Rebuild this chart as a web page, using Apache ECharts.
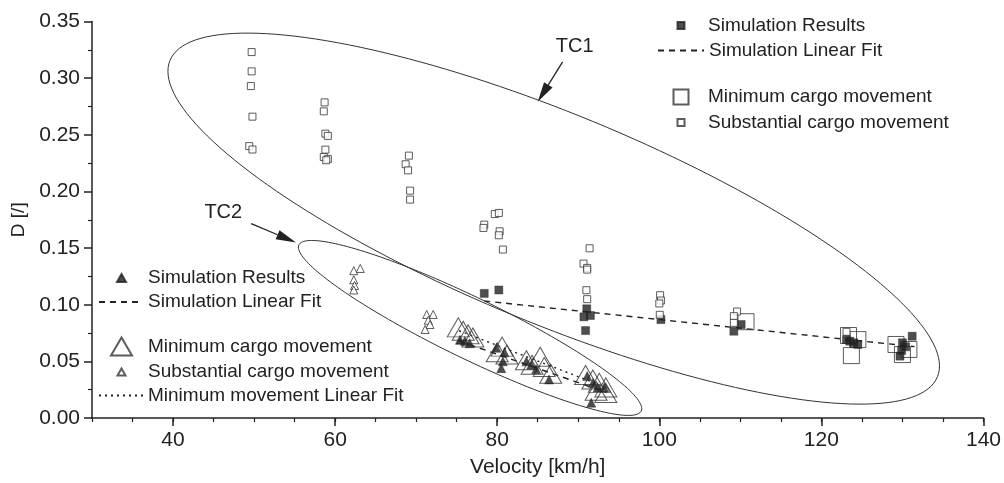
<!DOCTYPE html>
<html><head><meta charset="utf-8">
<script src="https://cdn.jsdelivr.net/npm/echarts@6/dist/echarts.min.js"></script>
<style>html,body{margin:0;padding:0;background:#fff}#chart{width:1004px;height:483px}</style>
</head><body><div id="chart"></div>
<script>
// ---------- axis ticks ----------
const xTickLabels = [40, 60, 80, 100, 120, 140];
const yTickLabels = [0.00, 0.05, 0.10, 0.15, 0.20, 0.25, 0.30, 0.35];

// ---------- TC1 (squares) ----------
const tc1Simulation = [
  [78.4,0.110],[80.2,0.113],
  [91.05,0.0964],[90.7,0.0893],[91.5,0.0905],[90.9,0.0772],
  [100.2,0.0869],
  [110.1,0.0825],[109.2,0.0766],
  [123.1,0.0693],[123.5,0.0678],[124.0,0.0664],[124.5,0.0649],
  [131.2,0.0722],[130.0,0.0664],[130.4,0.0629],[129.9,0.0596],[129.7,0.0546]
];
const tc1LinearFit = [[78.4,0.1033],[131.5,0.0630]];
const tc1Minimum = [
  [110.7,0.0850],
  [123.35,0.0728],[124.5,0.0692],[123.7,0.0551],
  [129.2,0.0649],[130.0,0.0560],[130.8,0.0605]
];
const tc1Substantial = [
  [49.7,0.323],[49.7,0.306],[49.6,0.293],[49.8,0.266],[49.4,0.240],[49.8,0.237],
  [58.7,0.2786],[58.6,0.2707],[58.8,0.251],[59.1,0.249],[58.8,0.2369],[58.6,0.2304],[59.1,0.2287],[58.9,0.2275],
  [69.1,0.2316],[68.7,0.224],[69.0,0.2186],[69.25,0.2007],[69.25,0.1928],
  [79.7,0.180],[80.2,0.181],[78.4,0.1707],[78.3,0.1678],[80.3,0.1648],[80.2,0.1613],[80.7,0.1487],
  [91.4,0.1498],[90.65,0.1363],[91.1,0.1325],[91.1,0.131],[91.0,0.1128],[91.1,0.1049],
  [100.1,0.1084],[100.2,0.1037],[100.0,0.1011],[100.06,0.0911],
  [109.6,0.094],[109.2,0.0899],[109.2,0.084],
  [123.1,0.0761]
];

// ---------- TC2 (triangles) ----------
const tc2Simulation = [
  [75.4,0.069],[76.0,0.068],[76.6,0.066],
  [79.9,0.062],[80.9,0.058],[80.7,0.050],[80.5,0.044],
  [83.6,0.050],[84.2,0.047],[84.8,0.043],[86.4,0.034],
  [91.1,0.037],[91.8,0.031],[92.4,0.027],[93.2,0.027],[91.6,0.0135]
];
const tc2LinearFit = [[75.3,0.068],[93.5,0.0225]];
const tc2Minimum = [
  [75.2,0.080],[75.8,0.077],[76.4,0.074],[77.0,0.071],
  [80.6,0.063],[80.0,0.058],[81.2,0.056],
  [83.6,0.051],[84.3,0.047],[85.3,0.054],[85.8,0.045],[86.6,0.039],
  [90.9,0.038],[91.8,0.034],[92.6,0.031],[93.4,0.027],[92.2,0.024],[93.4,0.022]
];
const tc2Substantial = [
  [62.3,0.130],[63.1,0.132],[62.3,0.122],[62.4,0.117],[62.3,0.113],
  [71.3,0.0914],[72.1,0.0914],[71.5,0.0863],[71.7,0.0825],[71.1,0.0781]
];
const tc2MinimumFit = [[75.3,0.077],[93.8,0.026]];

// ---------- annotations (data coordinates) ----------
// ellipse: centre, end of major semi-axis, end of minor semi-axis
const ellipseTC1 = [86.97,0.1760, 134.32,0.0364, 82.08,0.0904];
const ellipseTC2 = [76.65,0.0795, 97.77,0.0062, 75.02,0.0552];
// arrow: tail, tip
const arrowTC1 = [88.07,0.3144, 85.0,0.2791];
const arrowTC2 = [49.64,0.1716, 55.17,0.1549];
const annotationLabels = ['TC1','TC2'];
const annotationLabelPos = [[89.55,0.3277],[46.2,0.1812]];

const FONT = "'Liberation Sans', Arial, Helvetica, sans-serif";
const INK = '#222';

const chart = echarts.init(document.getElementById('chart'), null, {renderer:'canvas'});

// one legend per row: icon box (left, width, height), text start x
function legendRow(name, left, top, w, h, textX, isLine) {
  const pad = Math.max(0, textX - (left + w + 5));
  const row = {
    data:[name], left:left, top:top, orient:'vertical', itemWidth:w, itemHeight:h,
    padding:0, selectedMode:false, symbolKeepAspect:false,
    textStyle:{fontSize:19, color:INK, fontFamily:FONT, padding:[0,0,0,pad]},
    formatter: n => n.trim()
  };
  if (isLine) row.itemStyle = {color:'rgba(0,0,0,0)', borderColor:'rgba(0,0,0,0)', borderWidth:0, opacity:0};
  return row;
}

const openStyle = {color:'rgba(255,255,255,0)', borderColor:'#333', borderWidth:1};
const whiteStyle = {color:'#fff', borderColor:'#333', borderWidth:1};
const fillStyle = {color:INK, borderColor:INK, borderWidth:0.5};

const option = {
  animation:false,
  backgroundColor:'#fff',
  textStyle:{fontFamily:FONT},
  grid:{left:92, right:16, top:21.5, bottom:64.4},
  legend:[
    legendRow('Simulation Results', 676.5, 16, 7, 7, 707),
    legendRow('Simulation Linear Fit', 657, 41, 46, 10, 707, true),
    legendRow('Minimum cargo movement', 672.5, 87.5, 15, 15, 707),
    legendRow('Substantial cargo movement', 676.5, 113, 7, 7, 707),
    legendRow('Simulation Results ', 116, 268.5, 9, 8, 147),
    legendRow('Simulation Linear Fit ', 98, 292.5, 44, 10, 147, true),
    legendRow('Minimum cargo movement ', 110, 336.5, 21, 18, 147),
    legendRow('Substantial cargo movement ', 116.5, 362.5, 8, 7, 147),
    legendRow('Minimum movement Linear Fit', 98, 386, 44, 10, 147, true)
  ],
  xAxis:[{
    type:'value', min:30, max:140,
    name:'Velocity [km/h]', nameLocation:'middle', nameGap:39,
    nameTextStyle:{fontSize:21, color:INK, fontFamily:FONT},
    axisLine:{show:true, lineStyle:{color:INK, width:1.5}},
    axisTick:{show:true, length:8, customValues:xTickLabels, lineStyle:{color:INK, width:1.5}},
    axisLabel:{show:true, customValues:xTickLabels, margin:12, fontSize:21, color:INK, fontFamily:FONT},
    splitLine:{show:false}
  },{
    type:'value', min:30, max:140, interval:5, position:'bottom',
    axisLine:{show:false},
    axisTick:{show:true, length:4, lineStyle:{color:INK, width:1.2}},
    axisLabel:{show:false}, splitLine:{show:false}
  }],
  yAxis:{
    type:'value', min:0, max:0.35, interval:0.05,
    name:'D [/]', nameLocation:'middle', nameGap:62, nameRotate:90,
    nameTextStyle:{fontSize:19, color:INK, fontFamily:FONT},
    axisLine:{show:true, lineStyle:{color:INK, width:1.5}},
    axisTick:{show:true, length:8, lineStyle:{color:INK, width:1.5}},
    minorTick:{show:true, splitNumber:2, length:4, lineStyle:{color:INK, width:1.2}},
    axisLabel:{margin:12, fontSize:21, color:INK, fontFamily:FONT, formatter:v => v.toFixed(2)},
    splitLine:{show:false}
  },
  series:[
    {
      type:'custom', name:'ellipses', silent:true, z:1,
      data:[ellipseTC1, ellipseTC2],
      renderItem:function(params, api){
        const c = api.coord([api.value(0), api.value(1)]);
        const m = api.coord([api.value(2), api.value(3)]);
        const n = api.coord([api.value(4), api.value(5)]);
        const u = [m[0]-c[0], m[1]-c[1]], w = [n[0]-c[0], n[1]-c[1]];
        const pts = [];
        for (let i=0;i<=180;i++){
          const t = i/180*Math.PI*2;
          pts.push([c[0]+u[0]*Math.cos(t)+w[0]*Math.sin(t), c[1]+u[1]*Math.cos(t)+w[1]*Math.sin(t)]);
        }
        return {type:'polyline', shape:{points:pts}, style:{fill:null, stroke:'#333', lineWidth:1}};
      }
    },
    {
      type:'custom', name:'arrows', silent:true, z:1,
      data:[arrowTC1, arrowTC2],
      renderItem:function(params, api){
        const p = api.coord([api.value(0), api.value(1)]);
        const q = api.coord([api.value(2), api.value(3)]);
        const dx=q[0]-p[0], dy=q[1]-p[1], L=Math.sqrt(dx*dx+dy*dy);
        const ux=dx/L, uy=dy/L, hl=20, hw=5;
        const b=[q[0]-ux*hl, q[1]-uy*hl];
        return {type:'group', children:[
          {type:'line', shape:{x1:p[0], y1:p[1], x2:b[0], y2:b[1]}, style:{stroke:INK, lineWidth:1.3}},
          {type:'polygon', shape:{points:[[q[0],q[1]],[b[0]-uy*hw, b[1]+ux*hw],[b[0]+uy*hw, b[1]-ux*hw]]}, style:{fill:INK}}
        ]};
      }
    },
    {
      type:'custom', name:'labels', silent:true, z:1,
      data:annotationLabelPos,
      renderItem:function(params, api){
        const p = api.coord([api.value(0), api.value(1)]);
        return {type:'text', x:p[0], y:p[1], style:{text:annotationLabels[params.dataIndex], fontSize:20, fontFamily:FONT, fill:INK, align:'center', verticalAlign:'middle'}};
      }
    },
    {type:'line', name:'Simulation Linear Fit', data:tc1LinearFit, symbol:'none', z:2,
     itemStyle:{color:INK}, lineStyle:{color:INK, width:1.4, type:[6,5]}},
    {type:'line', name:'Simulation Linear Fit ', data:tc2LinearFit, symbol:'none', z:2,
     itemStyle:{color:INK}, lineStyle:{color:INK, width:1.4, type:[6,5]}},
    {type:'line', name:'Minimum movement Linear Fit', data:tc2MinimumFit, symbol:'none', z:2,
     itemStyle:{color:INK}, lineStyle:{color:INK, width:1.4, type:[2,4]}},
    {type:'scatter', name:'Minimum cargo movement', data:tc1Minimum, symbol:'rect', symbolSize:16, z:3, itemStyle:openStyle},
    {type:'scatter', name:'Minimum cargo movement ', data:tc2Minimum, symbol:'triangle', symbolSize:[22,19], z:3, itemStyle:openStyle},
    {type:'scatter', name:'Simulation Results', data:tc1Simulation, symbol:'rect', symbolSize:8, z:4, itemStyle:fillStyle},
    {type:'scatter', name:'Simulation Results ', data:tc2Simulation, symbol:'triangle', symbolSize:[9,9], z:4, itemStyle:fillStyle},
    {type:'scatter', name:'Substantial cargo movement', data:tc1Substantial, symbol:'rect', symbolSize:7, z:5, itemStyle:whiteStyle},
    {type:'scatter', name:'Substantial cargo movement ', data:tc2Substantial, symbol:'triangle', symbolSize:[8,8], z:5, itemStyle:whiteStyle}
  ]
};
chart.setOption(option);
</script></body></html>
